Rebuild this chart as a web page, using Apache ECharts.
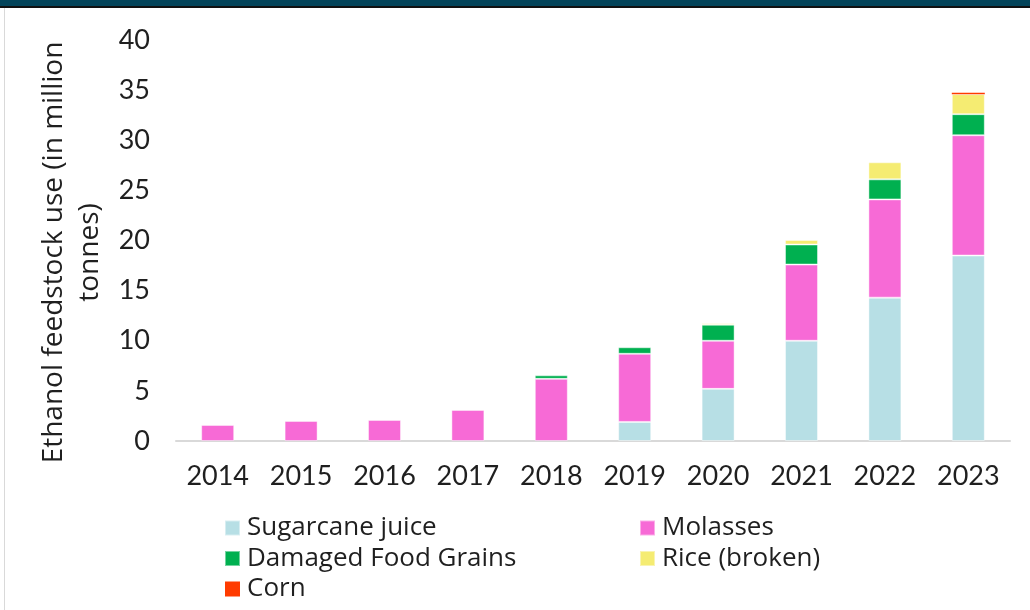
<!DOCTYPE html>
<html lang="en">
<head>
    <meta charset="UTF-8">
    <title>Ethanol feedstock use</title>
    <style>
        html, body { margin: 0; padding: 0; background: #fff; }
        #chart { width: 1030px; height: 610px; }
    </style>
</head>
<body>
<div id="chart"></div>
<script type="text/javascript" src="https://cdn.jsdelivr.net/npm/echarts@6/dist/echarts.min.js"></script>
<script>
    // values, million tonnes
    var years = ['2014', '2015', '2016', '2017', '2018', '2019', '2020', '2021', '2022', '2023'];
    var sugarcaneJuice = [null, null, null, null, null, 1.9, 5.2, 10.0, 14.3, 18.5];
    var molasses = [1.6, 2.0, 2.1, 3.1, 6.2, 6.8, 4.8, 7.6, 9.8, 12.0];
    var damagedGrains = [null, null, null, null, 0.35, 0.65, 1.6, 2.0, 2.0, 2.1];
    var riceBroken = [null, null, null, null, null, null, 0.15, 0.45, 1.7, 2.0];
    var corn = [null, null, null, null, null, null, null, null, null, 0.15];
    var yTicks = [0, 40, 5];

    var numFont = 'Lato';
    var textFont = 'Open Sans';
    var textColor = '#1f1f1f';

    function stackBar(name, data, color, border) {
        return {
            name: name,
            type: 'bar',
            stack: 'total',
            barWidth: 33,
            data: data,
            itemStyle: {
                color: color,
                borderColor: 'rgba(255,255,255,0.45)',
                borderWidth: border
            }
        };
    }

    var legendText = {fontFamily: textFont, fontSize: 26, lineHeight: 26, color: textColor, padding: [0, 0, 0, 2]};

    function legendBox(left, names) {
        return {
            orient: 'vertical',
            left: left,
            top: 515,
            height: 95,
            padding: 0,
            itemWidth: 15,
            itemHeight: 15,
            itemGap: 4.5,
            icon: 'rect',
            data: names,
            textStyle: legendText
        };
    }

    var myChart = echarts.init(document.getElementById('chart'));
    var option = {
        animation: false,
        textStyle: {fontFamily: textFont, color: textColor},
        color: ['#b7dfe5', '#f76ad6', '#00b050', '#f5ec72', '#ff3b00'],
        graphic: [
            {type: 'rect', shape: {x: 0, y: 0, width: 1030, height: 6}, style: {fill: '#03445a'}},
            {type: 'rect', shape: {x: 0, y: 6, width: 1030, height: 2}, style: {fill: '#111'}},
            {type: 'rect', shape: {x: 4, y: 8, width: 1, height: 602}, style: {fill: '#d9d9d9'}}
        ],
        grid: {left: 176, right: 20, top: 40, bottom: 169},
        legend: [
            legendBox(224, ['Sugarcane juice', 'Damaged Food Grains', 'Corn']),
            legendBox(639, ['Molasses', 'Rice (broken)'])
        ],
        xAxis: {
            type: 'category',
            data: years,
            axisLine: {lineStyle: {color: '#d9d9d9', width: 2}},
            axisTick: {show: false},
            axisLabel: {fontFamily: numFont, fontSize: 27, color: textColor, margin: 22}
        },
        yAxis: {
            type: 'value',
            min: yTicks[0],
            max: yTicks[1],
            interval: yTicks[2],
            name: 'Ethanol feedstock use (in million\ntonnes)',
            nameLocation: 'middle',
            nameGap: 61,
            nameTextStyle: {fontFamily: textFont, fontSize: 28, lineHeight: 36, color: textColor, padding: [0, 24, 0, 0]},
            axisLine: {show: false},
            axisTick: {show: false},
            splitLine: {show: false},
            axisLabel: {fontFamily: numFont, fontSize: 27, color: textColor, margin: 26}
        },
        series: [
            stackBar('Sugarcane juice', sugarcaneJuice, '#b7dfe5', 1),
            stackBar('Molasses', molasses, '#f76ad6', 1),
            stackBar('Damaged Food Grains', damagedGrains, '#00b050', 1),
            stackBar('Rice (broken)', riceBroken, '#f5ec72', 1),
            stackBar('Corn', corn, '#ff3b00', 0)
        ]
    };
    myChart.setOption(option);
</script>
</body>
</html>
